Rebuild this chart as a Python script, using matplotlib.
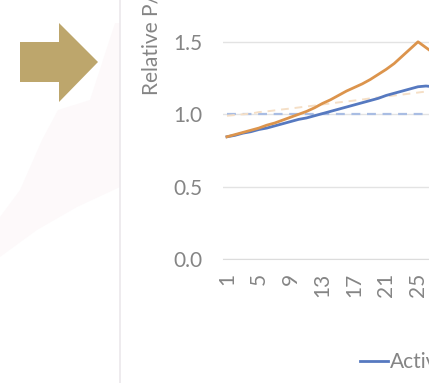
import matplotlib.pyplot as plt
from matplotlib.patches import Polygon
from matplotlib.lines import Line2D

plt.rcParams['font.family'] = ['Lato', 'DejaVu Sans']

# DADOS (categorias 1..52, so a parte visivel foi lida)
n_cat = 52
periodo = list(range(1, 29))

ativo = [0.845, 0.855, 0.87, 0.88, 0.895, 0.905, 0.92, 0.935, 0.95, 0.965,
         0.975, 0.99, 1.005, 1.02, 1.035, 1.05, 1.065, 1.08, 1.095, 1.11,
         1.13, 1.145, 1.16, 1.175, 1.19, 1.195, 1.19, 1.185]

passivo = [0.845, 0.86, 0.875, 0.89, 0.905, 0.925, 0.94, 0.96, 0.98, 1.00,
           1.02, 1.045, 1.075, 1.10, 1.13, 1.16, 1.185, 1.21, 1.24, 1.275,
           1.31, 1.35, 1.40, 1.45, 1.50, 1.46, 1.42, 1.38]

tendencia = [0.99, 0.995, 1.00, 1.005, 1.015, 1.02, 1.027, 1.034, 1.04, 1.047,
             1.054, 1.06, 1.068, 1.075, 1.082, 1.088, 1.095, 1.102, 1.11, 1.116,
             1.123, 1.13, 1.136, 1.143, 1.15, 1.157, 1.163, 1.17]

referencia = [1.0] * len(periodo)

y_ticks = [0.0, 0.5, 1.0, 1.5, 2.0]
x_labels = list(range(1, n_cat + 1, 4))

W, H = 429, 383
cinza = '#858585'
fs = 15

fig = plt.figure(figsize=(W / 100, H / 100), dpi=100)

# fundo do slide: mancha rosa bem clara e seta dourada
mancha = Polygon([(115 / W, 1 - 23 / H), (120 / W, 1 - 23 / H), (120 / W, 1 - 187 / H),
                  (77 / W, 1 - 207 / H), (37 / W, 1 - 230 / H), (0, 1 - 257 / H),
                  (0, 1 - 217 / H), (20 / W, 1 - 190 / H), (42 / W, 1 - 140 / H),
                  (58 / W, 1 - 110 / H), (90 / W, 1 - 100 / H)],
                 closed=True, transform=fig.transFigure, facecolor='#fdf9fa',
                 edgecolor='none')
fig.patches.append(mancha)

seta = Polygon([(20 / W, 1 - 42 / H), (59 / W, 1 - 42 / H), (59 / W, 1 - 23 / H),
                (98 / W, 1 - 62 / H), (59 / W, 1 - 102 / H), (59 / W, 1 - 82 / H),
                (20 / W, 1 - 82 / H)],
               closed=True, transform=fig.transFigure, facecolor='#bda66c',
               edgecolor='none')
fig.patches.append(seta)

# borda da area do grafico
fig.add_artist(Line2D([120 / W, 120 / W], [0, 1], transform=fig.transFigure,
                      color='#ebe8eb', lw=1.2))

# EIXO
cat_px = 7.96
ax = fig.add_axes([223 / W, 1 - 259.3 / H, n_cat * cat_px / W, 290 / H])
ax.set_xlim(0.5, n_cat + 0.5)
ax.set_ylim(0, 2.0)

ax.plot(periodo, referencia, color='#a9bde3', lw=1.6, ls=(0, (4, 3)))
ax.plot(periodo, tendencia, color='#f5dfc6', lw=1.4, ls=(0, (4, 3)))
ax.plot(periodo, ativo, color='#5679c0', lw=2.0, label='Active')
ax.plot(periodo, passivo, color='#dc944c', lw=2.0, label='Passive')

ax.set_yticks(y_ticks)
ax.set_yticklabels([f'{v:.1f}' for v in y_ticks])
ax.set_xticks(x_labels)
ax.set_xticklabels([str(v) for v in x_labels], rotation=90)
ax.tick_params(axis='y', length=0, pad=15, labelsize=fs, labelcolor=cinza)
ax.tick_params(axis='x', length=0, pad=10, labelsize=fs, labelcolor=cinza)

ax.grid(axis='y', color='#e3e3e3', lw=1)
ax.set_axisbelow(True)
for s in ['top', 'right', 'left']:
    ax.spines[s].set_visible(False)
ax.spines['bottom'].set_color('#dcdcdc')

fig.text(152 / W, 1 - 95 / H, 'Relative P/E', rotation=90, ha='center',
         va='bottom', fontsize=15, color=cinza)

fig.legend(handles=ax.lines[2:], loc='center left',
           bbox_to_anchor=(360 / W, 1 - 362 / H), ncol=2, frameon=False,
           fontsize=fs, labelcolor=cinza, handlelength=1.35, handletextpad=0.1,
           borderaxespad=0, borderpad=0)

fig.savefig('out.png', dpi=100)
